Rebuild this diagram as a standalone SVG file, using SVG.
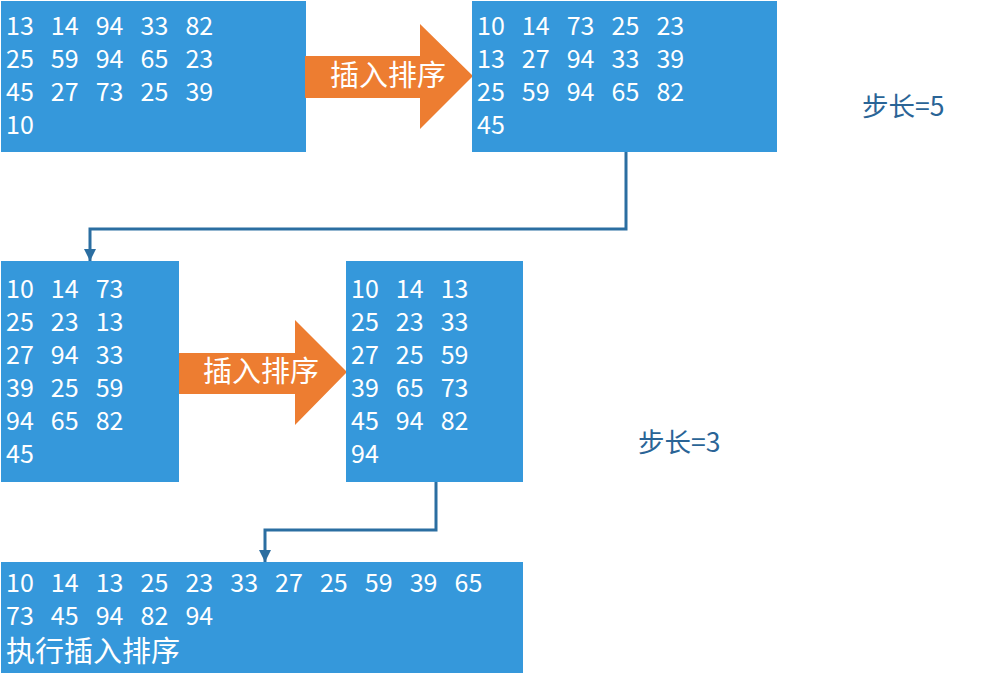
<svg xmlns="http://www.w3.org/2000/svg" width="1006" height="674" viewBox="0 0 1006 674">
<defs>
<style>
.box{fill:#3598DB}
.num{font-family:"Noto Sans CJK SC","Noto Sans",sans-serif;font-size:25px;fill:#fff;word-spacing:11.5px}
.cjk{font-family:"Noto Sans CJK SC",sans-serif;font-size:29px;fill:#fff}
.arrow{fill:#ED7D31}
.lbl{font-family:"Noto Sans CJK SC",sans-serif;font-size:26.5px;fill:#2A6496}
.conn{fill:none;stroke:#2B6EA1;stroke-width:3}
</style>
<marker id="ah" viewBox="0 0 10 10" refX="10" refY="5" markerWidth="4" markerHeight="4" orient="auto" markerUnits="strokeWidth">
<path d="M0,0 L10,5 L0,10 z" fill="#2B6EA1"/>
</marker>
</defs>
<g id="connectors">
<path class="conn" d="M626,152 V229 H90 V261" marker-end="url(#ah)"/>
<path class="conn" d="M436,482 V530 H265 V562" marker-end="url(#ah)"/>
</g>
<g id="box1">
<rect class="box" x="1" y="1" width="305" height="151"/>
<text class="num" x="6" y="35">13 14 94 33 82</text>
<text class="num" x="6" y="68">25 59 94 65 23</text>
<text class="num" x="6" y="101">45 27 73 25 39</text>
<text class="num" x="6" y="134">10</text>
</g>
<g id="arrow1">
<polygon class="arrow" points="305,56 420,56 420,24 473,76 420,129 420,98 305,98"/>
<text class="cjk" x="330" y="86">插入排序</text>
</g>
<g id="box2">
<rect class="box" x="472" y="1" width="305" height="151"/>
<text class="num" x="477" y="35">10 14 73 25 23</text>
<text class="num" x="477" y="68">13 27 94 33 39</text>
<text class="num" x="477" y="101">25 59 94 65 82</text>
<text class="num" x="477" y="134">45</text>
</g>
<g id="label5">
<text class="lbl" x="862" y="116">步长=5</text>
</g>
<g id="box3">
<rect class="box" x="1" y="261" width="178" height="221"/>
<text class="num" x="6" y="298">10 14 73</text>
<text class="num" x="6" y="331">25 23 13</text>
<text class="num" x="6" y="364">27 94 33</text>
<text class="num" x="6" y="397">39 25 59</text>
<text class="num" x="6" y="430">94 65 82</text>
<text class="num" x="6" y="463">45</text>
</g>
<g id="arrow2">
<polygon class="arrow" points="179,353 295,353 295,320 347,372 295,425 295,394 179,394"/>
<text class="cjk" x="203" y="382">插入排序</text>
</g>
<g id="box4">
<rect class="box" x="346" y="261" width="177" height="221"/>
<text class="num" x="351" y="298">10 14 13</text>
<text class="num" x="351" y="331">25 23 33</text>
<text class="num" x="351" y="364">27 25 59</text>
<text class="num" x="351" y="397">39 65 73</text>
<text class="num" x="351" y="430">45 94 82</text>
<text class="num" x="351" y="463">94</text>
</g>
<g id="label3">
<text class="lbl" x="638" y="452">步长=3</text>
</g>
<g id="box5">
<rect class="box" x="1" y="562" width="522" height="111"/>
<text class="num" x="6" y="592">10 14 13 25 23 33 27 25 59 39 65</text>
<text class="num" x="6" y="625">73 45 94 82 94</text>
<text class="cjk" x="6" y="662">执行插入排序</text>
</g>
</svg>
